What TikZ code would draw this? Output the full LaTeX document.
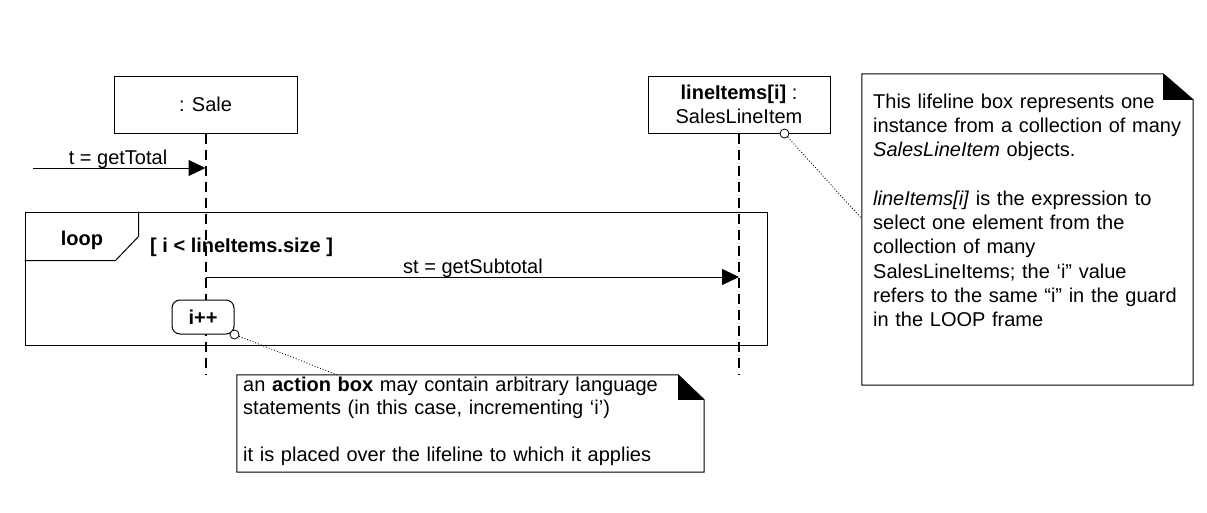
\documentclass[tikz,border=0pt]{standalone}
\usepackage{fontspec}
\setmainfont{Liberation Sans}
\usetikzlibrary{arrows.meta,calc}
\newcommand\dfont{\fontsize{20}{24.3}\selectfont}
\begin{document}
\begin{tikzpicture}[x=1pt,y=-1pt,
  every node/.style={font=\dfont},
  lifebox/.style={draw,line width=1pt,minimum height=57pt,inner sep=0pt,align=center},
  lifeline/.style={line width=2pt,dash pattern=on 10pt off 6pt},
  msg/.style={line width=1pt,-{Triangle[length=17pt,width=16pt]}},
  link/.style={line width=0.9pt,dotted},
  pin/.style={circle,draw,fill=white,line width=0.8pt,minimum size=9pt,inner sep=0pt},
  notetext/.style={anchor=base west,align=left,inner sep=0pt,text width=#1},
  lbl/.style={anchor=base,inner sep=0pt},
  notebox/.style={inner sep=0pt},
  boxline/.style={line width=1pt}
]
\useasboundingbox (0,0) rectangle (1207,512);

% loop frame
\node[draw,boxline,minimum width=742pt,minimum height=133pt,inner sep=0pt] (frame) at (396,278.5) {};
\draw[boxline] (frame.north west) ++(0,49) -- ++(91,0) -- ++(23,-24) -- ++(0,-25);
\node[font=\dfont\bfseries] (looplbl) at (82,240) {loop};
\node[anchor=base west,inner sep=0pt,font=\dfont\bfseries] (guard) at (150,252) {[ i < lineItems.size ]};

% lifeline boxes
\node[lifebox,minimum width=183pt] (sale) at (205.5,104.5) {: Sale};
\node[lifebox,minimum width=182pt] (li) at (739,104.5) {\textbf{lineItems[i]} :\\SalesLineItem};
\coordinate (saleEnd) at (205.5,375);
\coordinate (liEnd) at (739,375);
\draw[lifeline] (sale.south) -- (saleEnd);
\draw[lifeline] (li.south) -- (liEnd);

% messages
\coordinate (gtStart) at (33,168);
\coordinate (gtEnd) at (205.5,168);
\draw[msg] (gtStart) -- (gtEnd);
\node[lbl] (gtl) at (118,164) {t = getTotal};
\coordinate (stStart) at (205.5,277);
\coordinate (stEnd) at (739,277);
\draw[msg] (stStart) -- (stEnd);
\node[lbl] (stl) at (473,273) {st = getSubtotal};

% action box
\node[draw,boxline,fill=white,rounded corners=8pt,minimum width=62pt,minimum height=34pt,inner sep=0pt,font=\dfont\bfseries] (act) at (203,317) {i++};
\node[pin] (p1) at (act.south east) {};

% note 1
\node[notebox,minimum width=467pt,minimum height=97pt] (n1) at (470.5,423.5) {};
\draw[boxline] (n1.north west) -- ($(n1.north east)+(-26,0)$) -- ($(n1.north east)+(0,25)$) -- (n1.south east) -- (n1.south west) -- cycle;
\fill ($(n1.north east)+(-26,0)$) -- ($(n1.north east)+(0,25)$) -- ($(n1.north east)+(-26,25)$) -- cycle;
\node[notetext=455pt,font=\fontsize{20}{23.5}\selectfont] (n1t) at (243,391) {an \textbf{action box} may contain arbitrary language\\statements (in this case, incrementing ‘i’)\\\mbox{}\\it is placed over the lifeline to which it applies};
\coordinate (n1link) at ($(n1.north west)+(100,0)$);
\draw[link] (p1) -- (n1link);

% note 2
\node[notebox,minimum width=331pt,minimum height=311pt] (n2) at (1027.5,229.5) {};
\draw[boxline] (n2.north west) -- ($(n2.north east)+(-30,0)$) -- ($(n2.north east)+(0,26)$) -- (n2.south east) -- (n2.south west) -- cycle;
\fill ($(n2.north east)+(-30,0)$) -- ($(n2.north east)+(0,26)$) -- ($(n2.north east)+(-30,26)$) -- cycle;
\node[notetext=315pt] (n2t) at (873,108) {This lifeline box represents one\\instance from a collection of many\\\textit{SalesLineItem} objects.\\\mbox{}\\\textit{lineItems[i]} is the expression to\\select one element from the\\collection of many\\SalesLineItems; the ‘i” value\\refers to the same “i” in the guard\\in the LOOP frame};
\node[pin] (p2) at ($(li.south east)+(-46,0)$) {};
\coordinate (n2link) at ($(n2.north west)+(0,145)$);
\draw[link] (p2) -- (n2link);
\end{tikzpicture}
\end{document}
